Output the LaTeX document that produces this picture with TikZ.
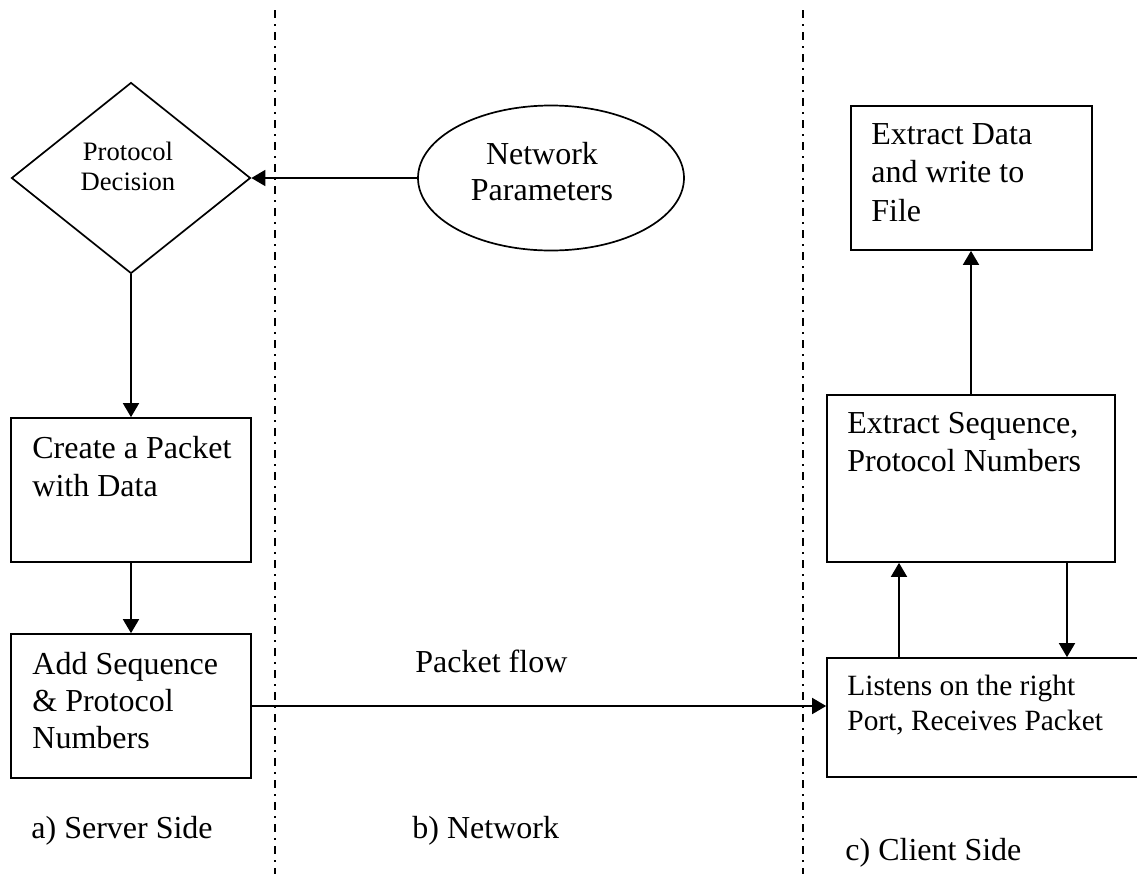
\documentclass[tikz,border=0pt]{standalone}
\usepackage{fontspec}
\setmainfont{Liberation Serif}
\usetikzlibrary{shapes.geometric,arrows.meta}

\tikzset{
  box/.style={draw, line width=0.85pt, rectangle, inner sep=0pt},
  flow/.style={line width=0.85pt, -{Triangle[length=7pt,width=8pt]}},
  divider/.style={line width=0.9pt, dash pattern=on 4pt off 3pt on 1pt off 3pt},
  txt/.style={inner sep=0pt, anchor=base west},
  ctxt/.style={inner sep=0pt, anchor=base},
  bigfont/.style={font=\fontsize{16}{19}\selectfont},
}
\renewcommand{\arraystretch}{1}

\begin{document}
\begin{tikzpicture}[x=0.5pt, y=-0.5pt]
  \clip (0,0) rectangle (1137,874);

  % lane separators
  \coordinate (sepA-top) at (275,10);
  \coordinate (sepA-bot) at (275,874);
  \coordinate (sepB-top) at (803,10);
  \coordinate (sepB-bot) at (803,874);
  \draw[divider] (sepA-top) -- (sepA-bot);
  \draw[divider] (sepB-top) -- (sepB-bot);

  % server side
  \node[draw, line width=0.85pt, diamond, inner sep=0pt,
        minimum width=119.5pt, minimum height=95.5pt] (decision) at (131,178) {};
  \node[ctxt, font=\fontsize{13.3}{15}\selectfont] (decision-txt) at (128,160)
    {\begin{tabular}[t]{@{}c@{}}Protocol\\Decision\end{tabular}};

  \node[box, minimum width=120pt, minimum height=72pt] (create) at (131,490) {};
  \node[txt, bigfont] (create-txt) at (32,458)
    {\begin{tabular}[t]{@{}l@{}}Create a Packet\\with Data\end{tabular}};

  \node[box, minimum width=120pt, minimum height=72pt] (add) at (131,706) {};
  \node[txt, font=\fontsize{16}{18.5}\selectfont] (add-txt) at (32,674)
    {\begin{tabular}[t]{@{}l@{}}Add Sequence\\\& Protocol\\Numbers\end{tabular}};

  % network
  \node[draw, line width=0.85pt, ellipse, inner sep=0pt,
        minimum width=133pt, minimum height=72.5pt] (netpar) at (551,178) {};
  \node[ctxt, font=\fontsize{16}{18}\selectfont] (netpar-txt) at (542,164)
    {\begin{tabular}[t]{@{}c@{}}Network\\Parameters\end{tabular}};

  \node[txt, bigfont] (flow-txt) at (415,672) {Packet flow};

  % client side
  \node[box, minimum width=120.5pt, minimum height=72pt] (extdata) at (971.5,178) {};
  \node[txt, font=\fontsize{16}{19.25}\selectfont] (extdata-txt) at (871,144)
    {\begin{tabular}[t]{@{}l@{}}Extract Data\\and write to\\File\end{tabular}};

  \node[box, minimum width=144pt, minimum height=83.5pt] (extseq) at (971,478.5) {};
  \node[txt, bigfont] (extseq-txt) at (847,433)
    {\begin{tabular}[t]{@{}l@{}}Extract Sequence,\\Protocol Numbers\end{tabular}};

  \node[box, minimum width=161.5pt, minimum height=59.5pt] (listens) at (988.5,717.5) {};
  \node[txt, font=\fontsize{14.7}{17.5}\selectfont] (listens-txt) at (847,695)
    {\begin{tabular}[t]{@{}l@{}}Listens on the right\\Port, Receives Packet\end{tabular}};

  % lane captions
  \node[txt, bigfont] (lane-a) at (31,838) {a) Server Side};
  \node[txt, bigfont] (lane-b) at (412,838) {b) Network};
  \node[txt, bigfont] (lane-c) at (845,860) {c) Client Side};

  % connectors
  \coordinate (upx) at (899,0);
  \coordinate (downx) at (1067,0);
  \draw[flow] (netpar.west) -- (netpar.west -| decision.east);
  \draw[flow] (decision.south) -- (create.north);
  \draw[flow] (create.south) -- (add.north);
  \draw[flow] (add.east) -- (add.east -| listens.west);
  \draw[flow] (listens.north -| upx) -- (extseq.south -| upx);
  \draw[flow] (extseq.south -| downx) -- (listens.north -| downx);
  \draw[flow] (extseq.north) -- (extseq.north |- extdata.south);
\end{tikzpicture}
\end{document}
